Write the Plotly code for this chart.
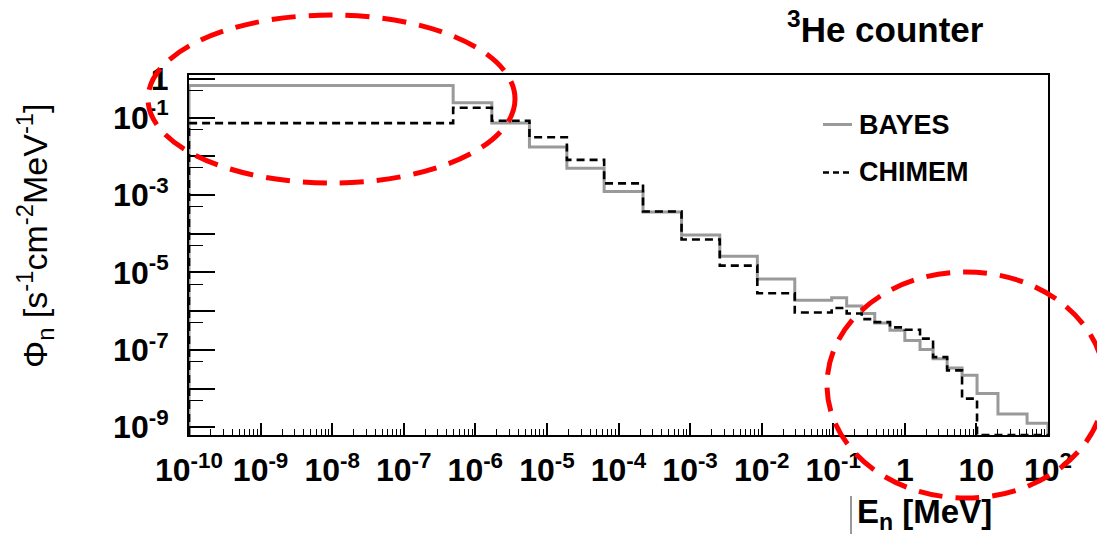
import numpy as np
import plotly.graph_objects as go

# Energy bin edges (MeV) and unfolded fluence per bin
edges_mev = [1e-10, 4.9e-7, 1.7e-6, 5.7e-6, 1.9e-5, 6.3e-5, 2.2e-4, 7.6e-4,
             2.6e-3, 8.7e-3, 2.9e-2, 0.095, 0.154, 0.25, 0.38, 0.62, 1.0,
             1.63, 2.48, 3.9, 6.3, 10.2, 20, 51, 100]

bayes = [0.67, 0.24, 0.072, 0.0174, 0.0049, 1.23e-3, 3.65e-4, 9.3e-5,
         2.6e-5, 6.8e-6, 1.9e-6, 2.2e-6, 1.35e-6, 8.7e-7, 4.9e-7, 3.2e-7,
         1.74e-7, 1.02e-7, 5.9e-8, 3.4e-8, 2.2e-8, 7.4e-9, 2.2e-9, 1.26e-9]

chimem = [0.072, 0.18, 0.083, 0.031, 0.0081, 2.0e-3, 3.75e-4, 7.1e-5,
          1.5e-5, 2.9e-6, 9.2e-7, 1.2e-6, 8.7e-7, 6.2e-7, 5.2e-7, 3.8e-7,
          3.3e-7, 1.95e-7, 6.5e-8, 2.95e-8, 5.5e-9, 0, 0, 0]

x_exponents = list(range(-10, 3))
x_ticktext = ["10<sup>%d</sup>" % k for k in range(-10, 0)] + ["1", "10", "10<sup>2</sup>"]

y_exponents = list(range(0, -10, -1))
y_ticktext = ["1", "10<sup>-1</sup>", "", "10<sup>-3</sup>", "", "10<sup>-5</sup>",
              "", "10<sup>-7</sup>", "", "10<sup>-9</sup>"]

X_RANGE = [-10, 2]
Y_RANGE = [-9.2, 0.1]

W, H = 1097, 538
ML, MR, MT, MB = 189, 49, 75, 103
PW, PH = W - ML - MR, H - MT - MB
FONT = "Liberation Sans, Arial, sans-serif"


def px(xp):
    return (xp - ML) / PW


def py(yp):
    return (H - MB - yp) / PH


def step_xy(edges, vals, floor):
    v = np.asarray(vals, dtype=float)
    v = np.where(v > 0, v, floor)
    xs = np.repeat(np.asarray(edges, dtype=float), 2)
    ys = np.concatenate([[floor], np.repeat(v, 2), [floor]])
    return xs, ys


floor = 10 ** Y_RANGE[0]
xb, yb = step_xy(edges_mev, bayes, floor)
xc, yc = step_xy(edges_mev, chimem, floor)

fig = go.Figure()
fig.add_trace(go.Scatter(x=xb, y=yb, mode="lines", name="BAYES",
                         line=dict(color="#9a9a9a", width=3), showlegend=False))
fig.add_trace(go.Scatter(x=xc, y=yc, mode="lines", name="CHIMEM",
                         line=dict(color="black", width=2.6, dash="8px,5px"),
                         showlegend=False))

x_minor = [m * 10.0 ** k for k in range(-10, 2) for m in range(2, 10)]
y_minor = [5 * 10.0 ** k for k in range(-1, -10, -1)]

fig.update_xaxes(
    type="log", range=X_RANGE,
    tickmode="array", tickvals=[10.0 ** k for k in x_exponents], ticktext=x_ticktext,
    ticks="inside", ticklen=12, tickwidth=1.5, tickcolor="black",
    showline=True, linecolor="black", linewidth=2, mirror=True,
    showgrid=False, zeroline=False,
    tickfont=dict(family=FONT, size=32, color="black", weight="bold"),
    ticklabelstandoff=6,
    minor=dict(tickmode="array", tickvals=x_minor, ticks="inside", ticklen=6,
               tickwidth=1.2, tickcolor="black", showgrid=False),
)
fig.update_yaxes(
    type="log", range=Y_RANGE,
    tickmode="array", tickvals=[10.0 ** k for k in y_exponents], ticktext=y_ticktext,
    ticks="inside", ticklen=26, tickwidth=1.5, tickcolor="black",
    showline=True, linecolor="black", linewidth=2, mirror=True,
    showgrid=False, zeroline=False,
    tickfont=dict(family=FONT, size=32, color="black", weight="bold"),
    ticklabelstandoff=12,
    minor=dict(tickmode="array", tickvals=y_minor, ticks="inside", ticklen=14,
               tickwidth=1.2, tickcolor="black", showgrid=False),
)

annotations = [
    dict(text="<sup>3</sup>He counter", x=px(785), y=py(27), xanchor="left", yanchor="middle",
         font=dict(family=FONT, size=35, color="black", weight="bold")),
    dict(text="E<sub>n</sub> [MeV]", x=px(855), y=py(514), xanchor="left", yanchor="middle",
         font=dict(family=FONT, size=33, color="black", weight="bold")),
    dict(text="\u03a6<sub>n</sub> [s<sup>-1</sup>cm<sup>-2</sup>MeV<sup>-1</sup>]",
         x=px(35), y=py(236), xanchor="center", yanchor="middle", textangle=-90,
         font=dict(family=FONT, size=34, color="black")),
    dict(text="BAYES", x=px(857), y=py(125), xanchor="left", yanchor="middle",
         font=dict(family=FONT, size=27, color="black", weight="bold")),
    dict(text="CHIMEM", x=px(857), y=py(172), xanchor="left", yanchor="middle",
         font=dict(family=FONT, size=27, color="black", weight="bold")),
]
for a in annotations:
    a.update(xref="paper", yref="paper", showarrow=False)

shapes = [
    # legend samples
    dict(type="line", x0=px(823), x1=px(852), y0=py(124.5), y1=py(124.5),
         line=dict(color="#9a9a9a", width=3)),
    dict(type="line", x0=px(823), x1=px(852), y0=py(172.5), y1=py(172.5),
         line=dict(color="black", width=2.6, dash="6px,4px")),
    # caret mark before the axis title
    dict(type="line", x0=px(851), x1=px(851), y0=py(496), y1=py(534),
         line=dict(color="#333333", width=1)),
    # highlighted regions
    dict(type="circle", x0=px(148), x1=px(515), y0=py(15), y1=py(183),
         line=dict(color="#ff0000", width=5, dash="24px,13px")),
    dict(type="circle", x0=px(827), x1=px(1105), y0=py(272), y1=py(498),
         line=dict(color="#ff0000", width=5, dash="24px,13px")),
]
for s in shapes:
    s.update(xref="paper", yref="paper")

fig.update_layout(
    width=W, height=H,
    margin=dict(l=ML, r=MR, t=MT, b=MB, pad=0),
    paper_bgcolor="white", plot_bgcolor="white",
    showlegend=False,
    annotations=annotations, shapes=shapes,
    font=dict(family=FONT, color="black"),
)

fig.write_html("out.html")
